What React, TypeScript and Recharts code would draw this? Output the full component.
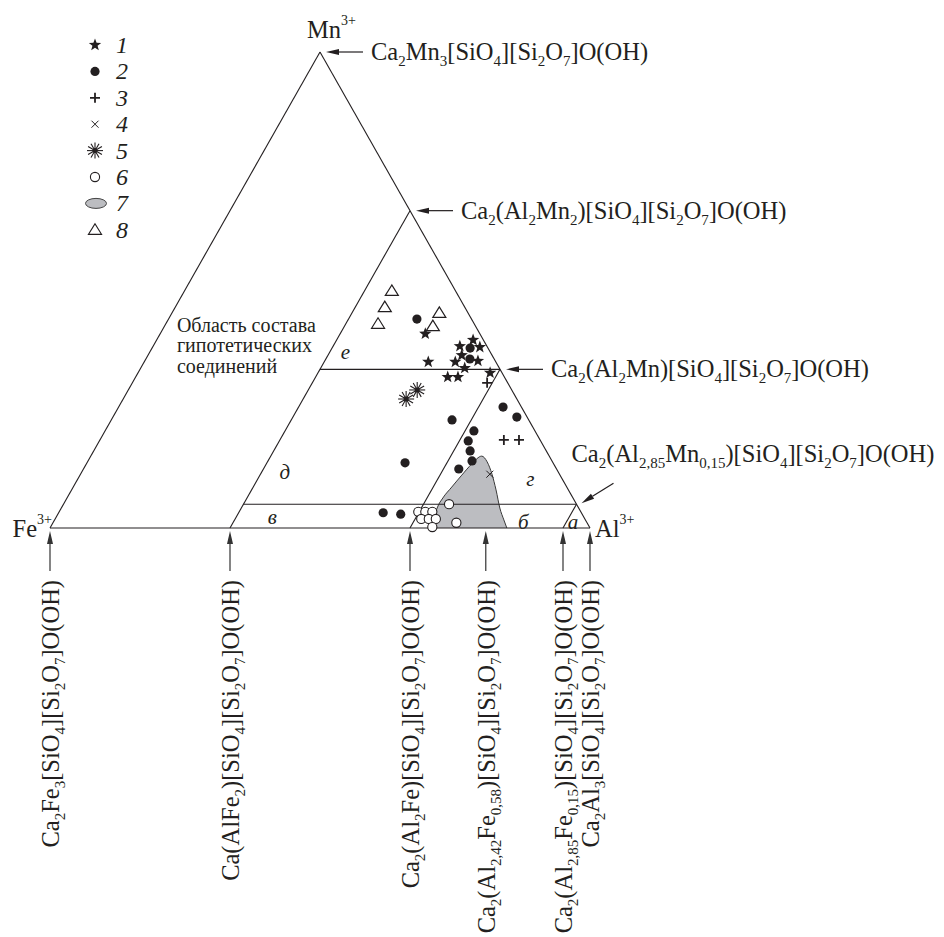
import React from 'react';
import { ComposedChart, XAxis, YAxis, Scatter, Area, ReferenceLine, ReferenceDot } from 'recharts';

// compositions, [Al %, Mn %] (Fe = 100 - Al - Mn)
const stars1 = [
  [49.1, 40.8], [52.6, 34.9], [56.8, 38.2], [58.6, 39.5], [60.6, 38.0], [58.1, 36.3],
  [57.6, 34.9], [61.7, 35.1], [60.0, 33.6], [57.8, 31.7], [59.7, 31.7], [65.2, 32.6],
];
const dots2 = [
  [46.0, 43.9], [58.9, 37.8], [60.0, 35.5], [63.1, 22.7], [71.2, 25.4], [74.8, 23.3],
  [68.3, 20.4], [68.3, 18.3], [69.7, 16.2], [71.1, 14.1], [69.5, 12.4], [58.9, 13.7],
  [60.1, 3.2], [63.5, 2.9],
];
const plus3 = [[65.7, 30.5], [74.8, 18.5], [77.6, 18.5]];
const cross4 = [[75.8, 11.3]];
const bursts5 = [[52.4, 27.1], [53.5, 29.0]];
const rings6 = [
  [66.5, 3.4], [67.8, 3.4], [69.1, 3.4], [67.8, 1.9], [69.2, 1.9], [70.5, 1.9],
  [70.7, 0.2], [74.7, 1.1], [71.4, 5.0],
];
const field7 = [
  [70.9, 0], [70.1, 2.1], [69.6, 4.2], [69.6, 6.3], [70.1, 8.6], [70.7, 11.1], [71.4, 13.5],
  [72.4, 15.1], [74.0, 13.9], [76.2, 11.3], [78.6, 8.0], [81.2, 4.2], [83.2, 1.7], [84.6, 0],
];
const tri8 = [[38.4, 49.8], [38.8, 46.4], [39.3, 42.9], [49.5, 45.2], [49.7, 42.4]];

const T = 100 / 3;
const dividers = [
  [[0, 0], [100, 0]], [[100, 0], [0, 100]], [[0, 100], [0, 0]],
  [[T, 2 * T], [T, 0]],
  [[T, T], [2 * T, T]],
  [[2 * T, T], [2 * T, 0]],
  [[T, 5], [95, 5]],
  [[95, 5], [95, 0]],
];

const sideFormulas = [
  { al: 0, mn: 100, text: 'Ca_2Mn_3[SiO_4][Si_2O_7]O(OH)' },
  { al: T, mn: 2 * T, text: 'Ca_2(Al_2Mn_2)[SiO_4][Si_2O_7]O(OH)' },
  { al: 2 * T, mn: T, text: 'Ca_2(Al_2Mn)[SiO_4][Si_2O_7]O(OH)' },
];
const slantFormula = { al: 95, mn: 5, text: 'Ca_2(Al_{2,85}Mn_{0,15})[SiO_4][Si_2O_7]O(OH)' };
const baseFormulas = [
  { al: 0, text: 'Ca_2Fe_3[SiO_4][Si_2O_7]O(OH)' },
  { al: T, text: 'Ca(AlFe_2)[SiO_4][Si_2O_7]O(OH)' },
  { al: 2 * T, text: 'Ca_2(Al_2Fe)[SiO_4][Si_2O_7]O(OH)' },
  { al: 80.7, text: 'Ca_2(Al_{2,42}Fe_{0,58})[SiO_4][Si_2O_7]O(OH)' },
  { al: 95, text: 'Ca_2(Al_{2,85}Fe_{0,15})[SiO_4][Si_2O_7]O(OH)' },
  { al: 100, text: 'Ca_2Al_3[SiO_4][Si_2O_7]O(OH)' },
];
const vertexLabels = [
  { al: 0, mn: 100, text: 'Mn^{3+}', dx: -13, dy: -14, anchor: 'start' },
  { al: 0, mn: 0, text: 'Fe^{3+}', dx: 2, dy: 9, anchor: 'end' },
  { al: 100, mn: 0, text: 'Al^{3+}', dx: 5, dy: 9, anchor: 'start' },
];
const regionLabels = [
  { al: 36.3, mn: 36.8, text: 'е' },
  { al: 37.7, mn: 11.6, text: 'д' },
  { al: 40.1, mn: 2.1, text: 'в' },
  { al: 87.1, mn: 1.1, text: 'б' },
  { al: 96.3, mn: 1.1, text: 'а' },
  { al: 83.9, mn: 10.1, text: 'г' },
];
const noteLines = ['Область состава', 'гипотетических', 'соединений'];

const W = 944;
const H = 937;
const FONT = '"Liberation Serif", "Times New Roman", serif';
const INK = '#231f20';

// frame: Fe3+ at x=50, Al3+ at x=590, base at y=528, apex at y=52
const X_DOMAIN: [number, number] = [-50 / 540, (W - 50) / 540];
const Y_DOMAIN: [number, number] = [-(H - 528) / 476, 528 / 476];

const tern = (al: number, mn: number) => ({ x: (al + mn / 2) / 100, y: mn / 100 });

function parseFormula(s: string) {
  const out: { t: string; lvl: number }[] = [];
  const re = /_\{([^}]*)\}|_(\d)|\^\{([^}]*)\}/g;
  let last = 0;
  let m: RegExpExecArray | null;
  while ((m = re.exec(s))) {
    if (m.index > last) out.push({ t: s.slice(last, m.index), lvl: 0 });
    if (m[3] !== undefined) out.push({ t: m[3], lvl: -1 });
    else out.push({ t: m[1] !== undefined ? m[1] : m[2], lvl: 1 });
    last = re.lastIndex;
  }
  if (last < s.length) out.push({ t: s.slice(last), lvl: 0 });
  return out;
}

function Formula({ x, y, text, anchor = 'start', rotate = false, size = 24.5 }: any) {
  const parts = parseFormula(text);
  const off = (l: number) => (l === 1 ? 6 : l === -1 ? -13 : 0);
  let cur = 0;
  return (
    <text x={x} y={y} fontSize={size} fontFamily={FONT} textAnchor={anchor} fill={INK}
      transform={rotate ? `rotate(-90 ${x} ${y})` : undefined}>
      {parts.map((p, i) => {
        const dy = off(p.lvl) - off(cur);
        cur = p.lvl;
        return (
          <tspan key={i} dy={dy} fontSize={p.lvl === 0 ? size : p.lvl === 1 ? 15 : 14}>{p.t}</tspan>
        );
      })}
    </text>
  );
}

function Arrow({ x1, y1, x2, y2, color = INK }: any) {
  const len = Math.hypot(x2 - x1, y2 - y1);
  const ux = (x2 - x1) / len;
  const uy = (y2 - y1) / len;
  const bx = x2 - ux * 13;
  const by = y2 - uy * 13;
  const head = `${x2},${y2} ${bx - uy * 3},${by + ux * 3} ${bx + uy * 3},${by - ux * 3}`;
  return (
    <g>
      <line x1={x1} y1={y1} x2={bx} y2={by} stroke={color} strokeWidth={1.2} />
      <polygon points={head} fill={color} />
    </g>
  );
}

function starPath(cx: number, cy: number, R = 6.5, r = 2.7) {
  let d = '';
  for (let i = 0; i < 10; i++) {
    const a = -Math.PI / 2 + (i * Math.PI) / 5;
    const rr = i % 2 ? r : R;
    d += (i ? 'L' : 'M') + (cx + rr * Math.cos(a)).toFixed(2) + ',' + (cy + rr * Math.sin(a)).toFixed(2);
  }
  return d + 'Z';
}

const markers: Record<string, (cx: number, cy: number) => React.ReactElement> = {
  star: (cx, cy) => <path d={starPath(cx, cy)} fill={INK} />,
  dot: (cx, cy) => <circle cx={cx} cy={cy} r={4.6} fill={INK} />,
  plus: (cx, cy) => (
    <path d={`M${cx - 5},${cy}H${cx + 5}M${cx},${cy - 5}V${cy + 5}`} stroke={INK} strokeWidth={1.8} />
  ),
  cross: (cx, cy) => (
    <path d={`M${cx - 3.5},${cy - 3.5}L${cx + 3.5},${cy + 3.5}M${cx - 3.5},${cy + 3.5}L${cx + 3.5},${cy - 3.5}`}
      stroke={INK} strokeWidth={1} />
  ),
  burst: (cx, cy) => (
    <g stroke={INK} strokeWidth={1.1}>
      {[0, 30, 60, 90, 120, 150].map(a => {
        const dx = 8 * Math.cos((a * Math.PI) / 180);
        const dy = 8 * Math.sin((a * Math.PI) / 180);
        return <line key={a} x1={cx - dx} y1={cy - dy} x2={cx + dx} y2={cy + dy} />;
      })}
      <circle cx={cx} cy={cy} r={2.5} fill={INK} stroke="none" />
    </g>
  ),
  ring: (cx, cy) => <circle cx={cx} cy={cy} r={4.6} fill="#fff" stroke={INK} strokeWidth={1.1} />,
  tri: (cx, cy) => (
    <polygon points={`${cx},${cy - 6} ${cx - 6.5},${cy + 4.5} ${cx + 6.5},${cy + 4.5}`}
      fill="#fff" stroke={INK} strokeWidth={1.2} />
  ),
  grey: (cx, cy) => <ellipse cx={cx + 1} cy={cy} rx={10.5} ry={5} fill="#bcbdc1" stroke="#444" strokeWidth={1} />,
};

const series = [
  { data: stars1, m: 'star' },
  { data: dots2, m: 'dot' },
  { data: plus3, m: 'plus' },
  { data: cross4, m: 'cross' },
  { data: bursts5, m: 'burst' },
  { data: rings6, m: 'ring' },
  { data: tri8, m: 'tri' },
];
const legendMarks = ['star', 'dot', 'plus', 'cross', 'burst', 'ring', 'grey', 'tri'];

export default function App() {
  const fieldData = field7.map(([al, mn]) => tern(al, mn));
  return (
    <div style={{ position: 'absolute', left: 0, top: 0, width: W, height: H, background: '#fff' }}>
      <ComposedChart width={W} height={H} margin={{ top: 0, right: 0, bottom: 0, left: 0 }}>
        <XAxis type="number" dataKey="x" domain={X_DOMAIN} allowDataOverflow hide />
        <YAxis type="number" dataKey="y" domain={Y_DOMAIN} allowDataOverflow hide />
        <Area data={fieldData} dataKey="y" type="monotone" baseValue={0} fill="#bcbdc1" fillOpacity={1}
          stroke="#3a3a3a" strokeWidth={1} dot={false} activeDot={false} isAnimationActive={false} />
        {dividers.map(([a, b], i) => (
          <ReferenceLine key={i} segment={[tern(a[0], a[1]), tern(b[0], b[1])]} stroke={INK} strokeWidth={1.1} />
        ))}
        {series.map((s, i) => (
          <Scatter key={i} data={s.data.map(([al, mn]) => tern(al, mn))} dataKey="y"
            shape={(p: any) => markers[s.m](p.cx, p.cy)} isAnimationActive={false} />
        ))}
        {sideFormulas.map((f, i) => (
          <ReferenceDot key={'s' + i} {...tern(f.al, f.mn)} r={0} ifOverflow="visible"
            shape={(p: any) => (
              <g>
                <Arrow x1={p.cx + 43} y1={p.cy} x2={p.cx + 6} y2={p.cy} />
                <Formula x={p.cx + 51} y={p.cy + 8} text={f.text} />
              </g>
            )} />
        ))}
        <ReferenceDot {...tern(slantFormula.al, slantFormula.mn)} r={0} ifOverflow="visible"
          shape={(p: any) => (
            <g>
              <Arrow x1={p.cx + 37} y1={p.cy - 21} x2={p.cx + 5} y2={p.cy - 1} />
              <Formula x={p.cx - 5} y={p.cy - 42} text={slantFormula.text} />
            </g>
          )} />
        {baseFormulas.map((f, i) => (
          <ReferenceDot key={'b' + i} {...tern(f.al, 0)} r={0} ifOverflow="visible"
            shape={(p: any) => (
              <g>
                <Arrow x1={p.cx} y1={p.cy + 43} x2={p.cx} y2={p.cy + 3} color="#333" />
                <Formula x={p.cx + 9} y={p.cy + 52} text={f.text} anchor="end" rotate />
              </g>
            )} />
        ))}
        {vertexLabels.map((v, i) => (
          <ReferenceDot key={'v' + i} {...tern(v.al, v.mn)} r={0} ifOverflow="visible"
            shape={(p: any) => <Formula x={p.cx + v.dx} y={p.cy + v.dy} text={v.text} anchor={v.anchor} />} />
        ))}
        {regionLabels.map((r, i) => (
          <ReferenceDot key={'r' + i} {...tern(r.al, r.mn)} r={0} ifOverflow="visible"
            shape={(p: any) => (
              <text x={p.cx} y={p.cy + 6} textAnchor="middle" fontFamily={FONT} fontStyle="italic"
                fontSize={21} fill={INK}>{r.text}</text>
            )} />
        ))}
        <ReferenceDot {...tern(2.9, 41.2)} r={0} ifOverflow="visible"
          shape={(p: any) => (
            <text x={p.cx} y={p.cy} fontFamily={FONT} fontSize={20} fill={INK}>
              {noteLines.map((l, i) => (
                <tspan key={i} x={p.cx} dy={i === 0 ? 0 : 20.5}>{l}</tspan>
              ))}
            </text>
          )} />
      </ComposedChart>
      <svg width={160} height={250} style={{ position: 'absolute', left: 0, top: 0 }}>
        {legendMarks.map((m, i) => {
          const y = 45 + i * 26.4;
          return (
            <g key={m}>
              {markers[m](95, y)}
              <text x={116} y={y + 8} fontFamily={FONT} fontStyle="italic" fontSize={24} fill={INK}>{i + 1}</text>
            </g>
          );
        })}
      </svg>
    </div>
  );
}
